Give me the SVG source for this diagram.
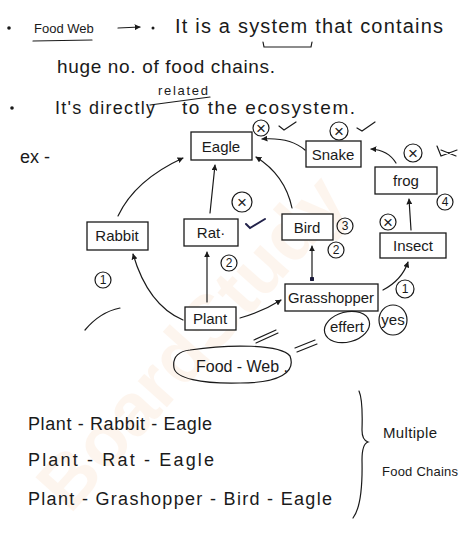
<svg xmlns="http://www.w3.org/2000/svg" width="474" height="538" viewBox="0 0 474 538">
<defs>
<marker id="ah" viewBox="0 0 10 10" refX="9" refY="5" markerWidth="5" markerHeight="5" orient="auto-start-reverse">
<path d="M0,0 L10,5 L0,10 z" fill="#1a1a1a"/>
</marker>
<marker id="dot" viewBox="0 0 10 10" refX="5" refY="5" markerWidth="4" markerHeight="4">
<circle cx="5" cy="5" r="5" fill="#1a1a3a"/>
</marker>
<style>
text{font-family:"Liberation Sans","DejaVu Sans",sans-serif;fill:#1a1a1a}
.t{font-size:18px}
.n{font-size:15px;text-anchor:middle}
.s{font-size:12px;text-anchor:middle}
.x{font-size:17px;text-anchor:middle}
.box{fill:#fff;stroke:#1a1a1a;stroke-width:1.3}
.ln{fill:none;stroke:#1a1a1a;stroke-width:1.2;stroke-linecap:round}
.c{fill:none;stroke:#1a1a1a;stroke-width:1.2}
</style>
</defs>
<rect width="474" height="538" fill="#fff"/>
<text x="70" y="515" transform="rotate(-48 70 515)" font-size="74" font-weight="bold" style="fill:#f4a460;opacity:0.1;font-family:'Liberation Sans',sans-serif">BoardStudy</text>

<g id="notes">
<circle cx="9" cy="28" r="1.8" fill="#1a1a1a"/>
<text x="34" y="33" font-size="13">Food Web</text>
<path class="ln" d="M33,41 L92,40"/>
<path class="ln" d="M118,28 L140,27" marker-end="url(#ah)"/>
<circle cx="153" cy="28" r="1.5" fill="#1a1a1a"/>
<text x="175" y="33" font-size="20" textLength="268" lengthAdjust="spacing">It is a system that contains</text>
<path class="ln" d="M263,42 L264,47 L311,47 L312,42"/>
<text x="57" y="73" font-size="19" textLength="218" lengthAdjust="spacing">huge no. of food chains.</text>
<circle cx="12" cy="108" r="1.8" fill="#1a1a1a"/>
<text x="55" y="114" font-size="18" textLength="100" lengthAdjust="spacing">It's directly</text>
<text x="158" y="95" font-size="13" textLength="50" lengthAdjust="spacing">related</text>
<path class="ln" d="M150,105 L210,97"/>
<text x="182" y="114" font-size="19" textLength="173" lengthAdjust="spacing">to the ecosystem.</text>
<text class="t" x="20" y="163" textLength="30" lengthAdjust="spacing">ex -</text>
</g>

<g id="connectors">
<path class="ln" d="M118,216 Q135,180 183,158" marker-end="url(#ah)"/>
<path class="ln" d="M210,213 L215,165" marker-end="url(#ah)"/>
<path class="ln" d="M292,208 Q285,175 256,157" marker-end="url(#ah)"/>
<path class="ln" d="M305,150 Q290,137 262,139" marker-end="url(#ah)"/>
<path class="ln" d="M396,163 Q388,150 371,149" marker-end="url(#ah)"/>
<path class="ln" d="M411,230 L409,199" marker-end="url(#ah)"/>
<path class="ln" d="M183,320 Q148,305 133,254" marker-end="url(#ah)"/>
<path class="ln" d="M207,302 L207,252" marker-end="url(#ah)"/>
<path class="ln" d="M240,318 Q262,312 281,300" marker-end="url(#ah)"/>
<path class="ln" d="M312,279 L312,246" marker-start="url(#dot)" marker-end="url(#ah)"/>
<path class="ln" d="M383,290 Q402,280 408,262" marker-end="url(#ah)"/>
</g>

<g id="eagle"><rect class="box" x="191" y="132" width="61" height="28"/><text class="n" x="221" y="152">Eagle</text></g>
<g id="snake"><rect class="box" x="306" y="141" width="55" height="26"/><text class="n" x="333" y="160">Snake</text></g>
<g id="frog"><rect class="box" x="375" y="167" width="62" height="27"/><text class="n" x="406" y="186">frog</text></g>
<g id="insect"><rect class="box" x="380" y="233" width="66" height="25"/><text class="n" x="413" y="251">Insect</text></g>
<g id="rabbit"><rect class="box" x="87" y="222" width="61" height="28"/><text class="n" x="117" y="241">Rabbit</text></g>
<g id="rat"><rect class="box" x="184" y="219" width="54" height="27"/><text class="n" x="211" y="238">Rat·</text></g>
<g id="bird"><rect class="box" x="282" y="214" width="51" height="26"/><text class="n" x="307" y="233">Bird</text></g>
<g id="plant"><rect class="box" x="185" y="307" width="51" height="23"/><text class="n" x="210" y="324">Plant</text></g>
<g id="grasshopper"><rect class="box" x="285" y="284" width="93" height="27"/><text class="n" x="331" y="303" textLength="86" lengthAdjust="spacingAndGlyphs">Grasshopper</text></g>

<g id="marks">
<circle class="c" cx="261" cy="128" r="8"/><text class="x" x="261" y="134">×</text>
<path class="ln" d="M279,126 L284,130 L296,122"/>
<circle class="c" cx="339" cy="131" r="9"/><text class="x" x="339" y="137">×</text>
<path class="ln" d="M357,128 L362,131 L375,122"/>
<circle class="c" cx="413" cy="153" r="9"/><text class="x" x="413" y="159">×</text>
<path class="ln" d="M437,146 L441,156 L457,150 M441,150 L456,156"/>
<circle class="c" cx="388" cy="222" r="8"/><text class="x" x="388" y="228">×</text>
<circle class="c" cx="445" cy="202" r="8"/><text class="s" x="445" y="206">4</text>
<circle class="c" cx="242" cy="202" r="10"/><text class="x" x="242" y="208">×</text>
<path d="M246,224 L250,228 L265,219" fill="none" stroke="#22224a" stroke-width="2" stroke-linecap="round"/>
<circle class="c" cx="345" cy="226" r="8"/><text class="s" x="345" y="230">3</text>
<circle class="c" cx="103" cy="280" r="8"/><text class="s" x="103" y="284">1</text>
<circle class="c" cx="229" cy="263" r="8"/><text class="s" x="229" y="267">2</text>
<circle class="c" cx="336" cy="250" r="8"/><text class="s" x="336" y="254">2</text>
<circle class="c" cx="405" cy="289" r="9"/><text class="s" x="405" y="293">1</text>
<path class="ln" d="M85,330 Q100,312 120,308"/>
<ellipse class="c" cx="347" cy="327" rx="23" ry="15" transform="rotate(-15 347 327)"/>
<text class="n" x="347" y="332" font-size="14">effert</text>
<ellipse class="c" cx="393" cy="320" rx="14" ry="15"/>
<text class="n" x="393" y="325" font-size="13">yes</text>
<path class="ln" d="M254,340 L276,330 M256,343 L278,333"/>
<path class="ln" d="M295,348 L315,340 M297,352 L317,344"/>
<path class="c" d="M190,350 C230,344 280,344 290,356 C296,372 280,383 240,383 C200,384 176,378 174,368 C172,356 180,351 190,350 Z"/>
<text x="196" y="372" font-size="16" textLength="92" lengthAdjust="spacing">Food - Web .</text>
</g>

<g id="chains">
<text class="t" x="28" y="430" textLength="184" lengthAdjust="spacing">Plant -  Rabbit - Eagle</text>
<text class="t" x="28" y="466" textLength="186" lengthAdjust="spacing">Plant -  Rat  -  Eagle</text>
<text class="t" x="28" y="505" textLength="304" lengthAdjust="spacing">Plant -  Grashopper - Bird  - Eagle</text>
<path class="ln" d="M359,391 Q363,400 362,430 Q362,440 368,442 Q362,444 362,460 Q363,505 353,518"/>
<text x="383" y="438" font-size="15" textLength="54" lengthAdjust="spacing">Multiple</text>
<text x="382" y="476" font-size="13" textLength="76" lengthAdjust="spacing">Food Chains</text>
</g>
</svg>
